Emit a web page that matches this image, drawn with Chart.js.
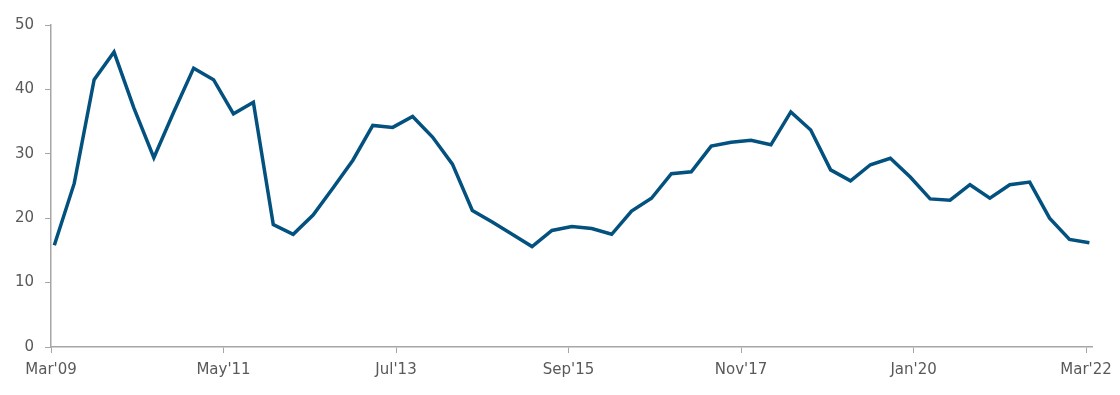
<!DOCTYPE html>
<html>
<head>
<meta charset="utf-8">
<script src="https://cdn.jsdelivr.net/npm/chart.js@4/dist/chart.umd.min.js"></script>
<style>
  html, body { margin: 0; padding: 0; background: #fff; }
  #wrap { width: 1120px; height: 395px; position: relative; }
</style>
</head>
<body>
<div id="wrap"><canvas id="lineChart"></canvas></div>
<script>
  // quarterly readings, Mar'09 .. Mar'22
  var VALUES = [
    15.8, 25.4, 41.5, 45.8, 37.1, 29.4, 36.5, 43.3, 41.5, 36.2,
    38.0, 19.0, 17.5, 20.5, 24.7, 29.0, 34.4, 34.1, 35.8, 32.6,
    28.4, 21.2, 19.4, 17.5, 15.6, 18.1, 18.7, 18.4, 17.5, 21.1,
    23.1, 26.9, 27.2, 31.2, 31.8, 32.1, 31.4, 36.5, 33.7, 27.5,
    25.8, 28.3, 29.3, 26.4, 23.0, 22.8, 25.2, 23.1, 25.2, 25.6,
    20.0, 16.7, 16.2
  ];
  // months since Mar'09 for each axis label
  var TICK_MONTHS = [0, 26, 52, 78, 104, 130, 156];
  var TICK_LABELS = ["Mar'09", "May'11", "Jul'13", "Sep'15", "Nov'17", "Jan'20", "Mar'22"];
  var Y_TICKS = [0, 10, 20, 30, 40, 50];

  var points = VALUES.map(function (v, i) {
    return { x: i * 3 + 0.5, y: v };
  });

  var axisColor = '#a6a6a6';
  var textColor = '#595959';
  var font = { family: 'DejaVu Sans', size: 15 };

  new Chart(document.getElementById('lineChart'), {
    type: 'line',
    data: {
      datasets: [{
        data: points,
        borderColor: '#03517f',
        borderWidth: 3.5,
        pointRadius: 0,
        tension: 0,
        fill: false
      }]
    },
    options: {
      responsive: true,
      maintainAspectRatio: false,
      animation: false,
      layout: { padding: { top: 25, right: 26, left: 0, bottom: 0 } },
      plugins: { legend: { display: false }, tooltip: { enabled: false } },
      scales: {
        x: {
          type: 'linear',
          min: 0,
          max: 157,
          afterBuildTicks: function (scale) {
            scale.ticks = TICK_MONTHS.map(function (m) { return { value: m }; });
          },
          afterFit: function (scale) { scale.height = 48; },
          grid: { drawOnChartArea: false, color: axisColor, tickLength: 6, lineWidth: 1 },
          border: { color: axisColor, width: 1.5 },
          ticks: {
            autoSkip: false,
            maxRotation: 0,
            padding: 8,
            color: textColor,
            font: font,
            callback: function (v) {
              var i = TICK_MONTHS.indexOf(v);
              return i >= 0 ? TICK_LABELS[i] : '';
            }
          }
        },
        y: {
          min: 0,
          max: 50,
          afterBuildTicks: function (scale) {
            scale.ticks = Y_TICKS.map(function (v) { return { value: v }; });
          },
          afterFit: function (scale) { scale.width = 51; },
          grid: { drawOnChartArea: false, color: axisColor, tickLength: 6, lineWidth: 1 },
          border: { color: axisColor, width: 1.5 },
          ticks: {
            padding: 11,
            color: textColor,
            font: font
          }
        }
      }
    }
  });
</script>
</body>
</html>
